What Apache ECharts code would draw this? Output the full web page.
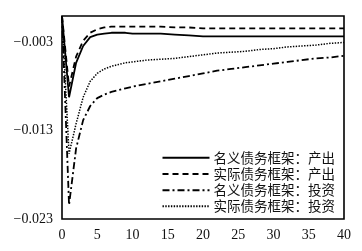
<!DOCTYPE html>
<html>
<head>
<meta charset="utf-8">
<script src="https://cdn.jsdelivr.net/npm/echarts@6/dist/echarts.min.js"></script>
<style>
  html, body { margin: 0; padding: 0; background: #fff; }
  #chart { width: 362px; height: 251px; }
</style>
</head>
<body>
<div id="chart"></div>
<script>
// periods after the shock
const periods = [0, 1, 2, 3, 4, 5, 6, 7, 8, 9, 10, 12, 14, 16, 18, 20, 22, 24, 26, 28, 30, 32, 34, 36, 38, 40];

const seriesNames = ["名义债务框架：产出", "实际债务框架：产出", "名义债务框架：投资", "实际债务框架：投资"];

const nominalOutput = [0, -0.0092, -0.0053, -0.0034, -0.0024, -0.0021, -0.0020, -0.0019, -0.0019, -0.0019, -0.0020, -0.0020, -0.0020, -0.0021, -0.0022, -0.0023, -0.0023, -0.0023, -0.0023, -0.0023, -0.0023, -0.0023, -0.0023, -0.0023, -0.0023, -0.0023];
const realOutput = [0, -0.0080, -0.0046, -0.0028, -0.0019, -0.0015, -0.0013, -0.0012, -0.0012, -0.0012, -0.0012, -0.0012, -0.0012, -0.0013, -0.0013, -0.0014, -0.0014, -0.0014, -0.0014, -0.0014, -0.0014, -0.0014, -0.0014, -0.0014, -0.0014, -0.0014];
const nominalInvest = [0, -0.0214, -0.0150, -0.0118, -0.0102, -0.0093, -0.0089, -0.0086, -0.0084, -0.0082, -0.0080, -0.0077, -0.0074, -0.0071, -0.0068, -0.0065, -0.0062, -0.0060, -0.0058, -0.0056, -0.0054, -0.0052, -0.0050, -0.0048, -0.0047, -0.0045];
const realInvest = [0, -0.0156, -0.0122, -0.0092, -0.0074, -0.0065, -0.0060, -0.0057, -0.0055, -0.0053, -0.0052, -0.0050, -0.0049, -0.0048, -0.0046, -0.0044, -0.0042, -0.0041, -0.0040, -0.0038, -0.0037, -0.0035, -0.0034, -0.0033, -0.0031, -0.0030];

const lineTypes = ["solid", [6, 4], [7, 3, 2, 3], [1.4, 1.4]];
const lineWidths = [1.8, 1.8, 1.8, 1.5];

const chart = echarts.init(document.getElementById("chart"));

const allValues = [nominalOutput, realOutput, nominalInvest, realInvest];

const option = {
  animation: false,
  grid: {
    left: 62, right: 18, top: 16, bottom: 32,
    show: true, borderColor: "#000", borderWidth: 1.6, backgroundColor: "transparent"
  },
  legend: {
    orient: "vertical",
    right: 22, top: 146,
    itemWidth: 47, itemHeight: 14, itemGap: 2.7,
    data: seriesNames,
    itemStyle: { opacity: 0 },
    textStyle: { fontFamily: "Noto Sans CJK SC", fontSize: 13.5, color: "#111", padding: [0, 0, 0, -1] }
  },
  xAxis: {
    type: "value",
    min: 0, max: 40, interval: 5,
    axisLine: { show: false },
    axisTick: { show: false },
    splitLine: { show: false },
    axisLabel: { margin: 9, fontFamily: "Liberation Serif", fontSize: 14, color: "#111" }
  },
  yAxis: {
    type: "value",
    min: -0.023, max: 0, interval: 0.01,
    axisLine: { show: false },
    axisTick: { show: false },
    splitLine: { show: false },
    axisLabel: {
      margin: 9, fontFamily: "Liberation Serif", fontSize: 14, color: "#111",
      showMaxLabel: false,
      formatter: (v) => (v === 0 ? "" : v.toFixed(3).replace("-", "\u2212"))
    }
  },
  series: seriesNames.map((name, i) => ({
    name,
    type: "line",
    symbol: "none",
    data: periods.map((t, j) => [t, allValues[i][j]]),
    lineStyle: { color: "#000", width: lineWidths[i], type: lineTypes[i] },
    itemStyle: { color: "#000" }
  }))
};

chart.setOption(option);
</script>
</body>
</html>
